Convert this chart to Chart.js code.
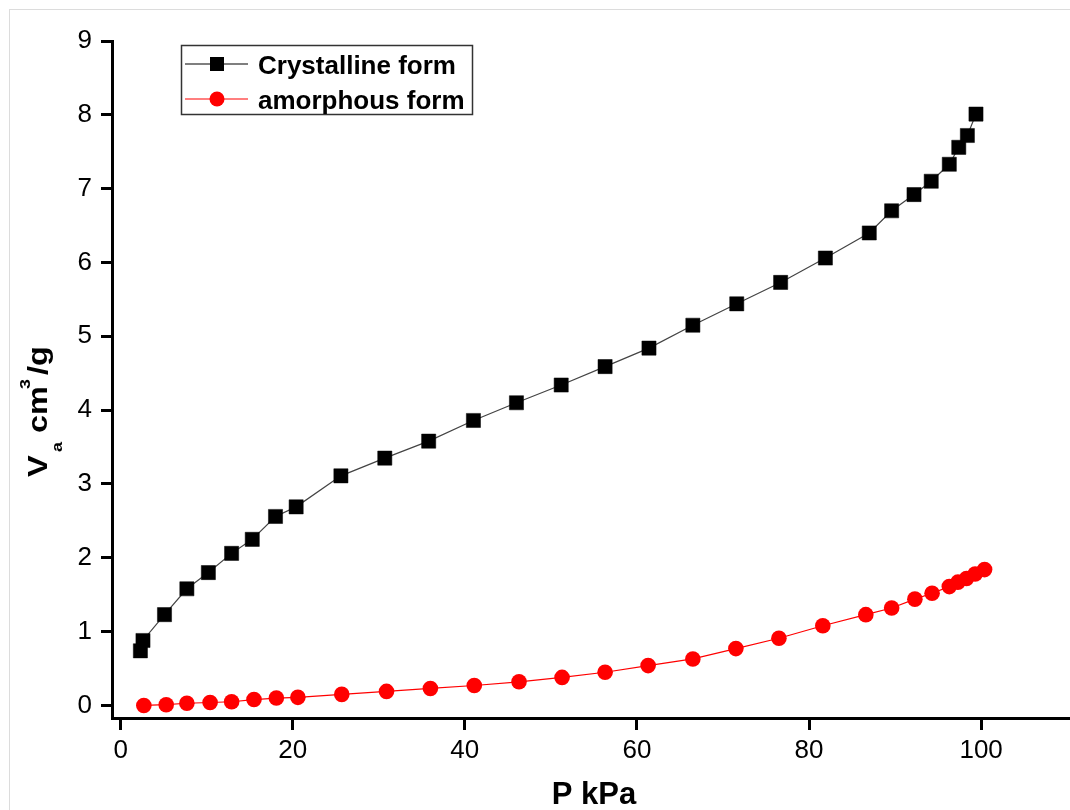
<!DOCTYPE html>
<html>
<head>
<meta charset="utf-8">
<title>Adsorption isotherm</title>
<script src="https://cdn.jsdelivr.net/npm/chart.js@4.4.0/dist/chart.umd.min.js"></script>
<style>
  html, body { margin: 0; padding: 0; background: #fff; overflow: hidden; }
  #wrap { position: relative; width: 1070px; height: 810px; overflow: hidden; }
  #frame { position: absolute; left: 9px; top: 9px; width: 1100px; height: 900px; border: 1px solid #dcdcdc; }
  canvas { position: absolute; left: 0; top: 0; }
</style>
</head>
<body>
<div id="wrap">
  <div id="frame"></div>
  <canvas id="chart" width="1082" height="810"></canvas>
</div>
<script>
const crystP = [2.3, 2.6, 5.1, 7.7, 10.2, 12.9, 15.3, 18.0, 20.4, 25.6, 30.7, 35.8, 41.0, 46.0, 51.2, 56.3,
  61.4, 66.5, 71.6, 76.7, 81.9, 87.0, 89.6, 92.2, 94.2, 96.3, 97.4, 98.4, 99.4];
const crystV = [0.74, 0.88, 1.23, 1.58, 1.80, 2.06, 2.25, 2.56, 2.69, 3.11, 3.35, 3.58, 3.86, 4.10, 4.34, 4.59,
  4.84, 5.15, 5.44, 5.73, 6.06, 6.40, 6.70, 6.92, 7.10, 7.33, 7.56, 7.72, 8.01];
const amorP = [2.7, 5.3, 7.7, 10.4, 12.9, 15.5, 18.1, 20.6, 25.7, 30.9, 36.0, 41.1, 46.3, 51.3, 56.3, 61.3,
  66.5, 71.5, 76.5, 81.6, 86.6, 89.6, 92.3, 94.3, 96.3, 97.3, 98.3, 99.3, 100.4];
const amorV = [0.00, 0.01, 0.03, 0.04, 0.05, 0.08, 0.10, 0.11, 0.15, 0.19, 0.23, 0.27, 0.32, 0.38, 0.45, 0.54,
  0.63, 0.77, 0.91, 1.08, 1.23, 1.32, 1.44, 1.52, 1.61, 1.67, 1.72, 1.78, 1.84];

const xTicks = [0, 20, 40, 60, 80, 100];
const yTicks = [0, 1, 2, 3, 4, 5, 6, 7, 8, 9];

const seriesNames = ['Crystalline form', 'amorphous form'];

function toPoints(xs, ys) {
  return xs.map((x, i) => ({ x: x, y: ys[i] }));
}

// legend box with line + marker samples
const boxLegend = {
  id: 'boxLegend',
  afterDraw(chart) {
    const ctx = chart.ctx;
    ctx.save();
    ctx.strokeStyle = '#333';
    ctx.lineWidth = 1.5;
    ctx.strokeRect(181.5, 45.5, 291, 69);
    const rows = [64, 99];
    chart.data.datasets.forEach((ds, i) => {
      const y = rows[i];
      ctx.strokeStyle = ds.pointBackgroundColor;
      ctx.lineWidth = 1.2;
      ctx.beginPath();
      ctx.moveTo(185, y);
      ctx.lineTo(248, y);
      ctx.stroke();
      ctx.fillStyle = ds.pointBackgroundColor;
      if (ds.pointStyle === 'rect') {
        ctx.fillRect(210, y - 7, 14, 14);
      } else {
        ctx.beginPath();
        ctx.arc(217, y, 7.5, 0, Math.PI * 2);
        ctx.fill();
      }
      ctx.fillStyle = '#000';
      ctx.font = 'bold 26px "Liberation Sans", Arial, sans-serif';
      ctx.textBaseline = 'alphabetic';
      ctx.textAlign = 'left';
      ctx.fillText(ds.label, 258, y + 9.5);
    });
    ctx.restore();
  }
};

// axis titles (y title needs subscript and superscript)
const axisTitles = {
  id: 'axisTitles',
  afterDraw(chart) {
    const ctx = chart.ctx;
    ctx.save();
    ctx.fillStyle = '#000';
    ctx.font = 'bold 31px "Liberation Sans", Arial, sans-serif';
    ctx.textAlign = 'center';
    ctx.textBaseline = 'alphabetic';
    ctx.fillText('P kPa', 594, 804);

    const parts = [
      { t: 'V', start: 477, size: 27, base: 46.5 },
      { t: 'a', start: 452, size: 15, base: 61.5 },
      { t: 'cm', start: 433, size: 27, base: 46.5 },
      { t: '3', start: 389, size: 15, base: 30 },
      { t: '/g', start: 375, size: 27, base: 46.5 }
    ];
    parts.forEach(p => {
      ctx.save();
      ctx.translate(p.base, p.start);
      ctx.rotate(-Math.PI / 2);
      ctx.scale(1.2, 1);
      ctx.font = 'bold ' + p.size + 'px "Liberation Sans", Arial, sans-serif';
      ctx.textAlign = 'left';
      ctx.fillText(p.t, 0, 0);
      ctx.restore();
    });
    ctx.restore();
  }
};

const tickFont = { family: '"Liberation Sans", Arial, sans-serif', size: 26 };

const chart = new Chart(document.getElementById('chart').getContext('2d'), {
  type: 'scatter',
  data: {
    datasets: [
      {
        label: seriesNames[0],
        data: toPoints(crystP, crystV),
        showLine: true,
        borderColor: '#444',
        borderWidth: 1.2,
        pointStyle: 'rect',
        pointRadius: 10,
        pointBackgroundColor: '#000',
        pointBorderColor: '#000',
        pointBorderWidth: 0.5,
        tension: 0
      },
      {
        label: seriesNames[1],
        data: toPoints(amorP, amorV),
        showLine: true,
        borderColor: '#ff0000',
        borderWidth: 1.2,
        pointStyle: 'circle',
        pointRadius: 7.8,
        pointBackgroundColor: '#ff0000',
        pointBorderColor: '#ff0000',
        pointBorderWidth: 0,
        tension: 0
      }
    ]
  },
  options: {
    responsive: false,
    animation: false,
    layout: { padding: { left: 0, top: 41, right: 1, bottom: 0 } },
    plugins: {
      legend: { display: false },
      tooltip: { enabled: false }
    },
    scales: {
      x: {
        type: 'linear',
        min: -1,
        max: 110.5,
        afterFit(scale) {
          scale.height = 92;
          scale.paddingLeft = 0;
          scale.paddingRight = 0;
        },
        afterBuildTicks(scale) { scale.ticks = xTicks.map(v => ({ value: v })); },
        border: { display: true, color: '#000', width: 3 },
        grid: { display: true, drawOnChartArea: false, drawTicks: true, tickLength: 12, tickWidth: 3, tickColor: '#000' },
        ticks: { color: '#000', font: tickFont, padding: 5, maxRotation: 0 }
      },
      y: {
        type: 'linear',
        min: -0.17,
        max: 9,
        afterFit(scale) {
          scale.width = 112;
          scale.paddingTop = 0;
          scale.paddingBottom = 0;
        },
        afterBuildTicks(scale) { scale.ticks = yTicks.map(v => ({ value: v })); },
        border: { display: true, color: '#000', width: 3 },
        grid: { display: true, drawOnChartArea: false, drawTicks: true, tickLength: 11, tickWidth: 3, tickColor: '#000' },
        ticks: { color: '#000', font: tickFont, padding: 9 }
      }
    }
  },
  plugins: [boxLegend, axisTitles]
});
</script>
</body>
</html>
